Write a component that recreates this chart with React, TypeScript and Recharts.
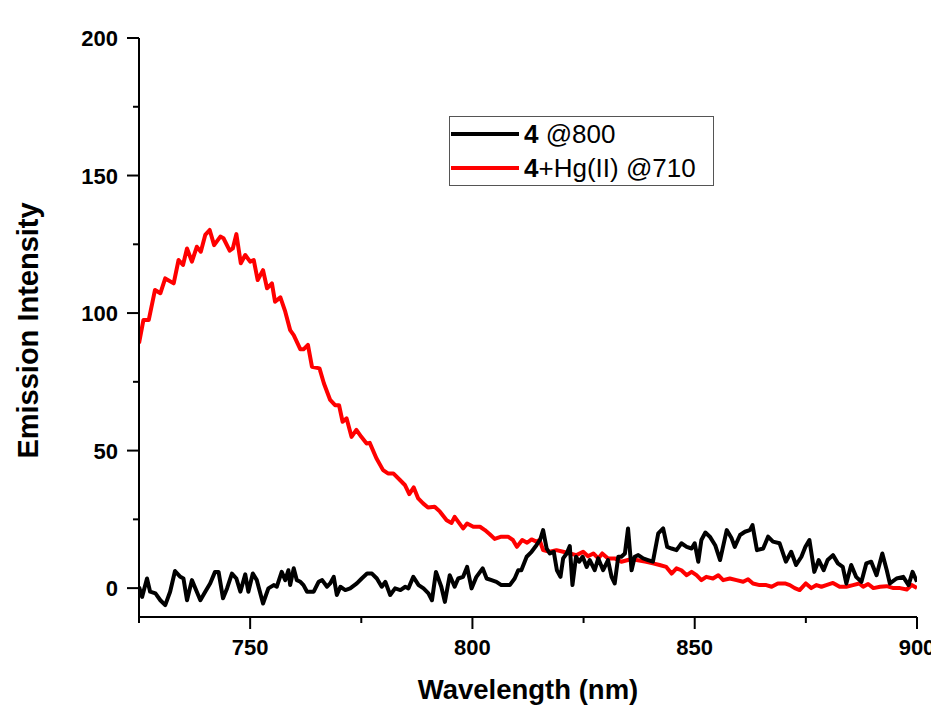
import React from 'react';
import { LineChart, Line, XAxis, YAxis, Legend } from 'recharts';

const redNm = [725, 726, 727.2, 728.6, 729.8, 730.9, 732.8, 733.9, 734.9, 735.8, 736.9, 738, 738.9, 739.9, 740.9, 741.9, 743.3, 744, 745.4, 746.1, 746.9, 747.9, 748.9, 750, 750.8, 751.7, 752.9, 753.8, 754.9, 755.6, 756.8, 757.9, 759, 759.8, 761.3, 762, 763, 763.9, 765.6, 766.6, 768, 769.1, 770, 770.8, 771.7, 772.8, 773.9, 775, 776.2, 776.9, 778.4, 779.9, 781, 782.2, 783.7, 784.8, 785.8, 786.8, 787.8, 788.9, 790, 791.5, 792.7, 794.2, 795.3, 796, 797.9, 798.8, 800.2, 801.7, 802.8, 803.9, 805, 806.5, 808, 809.1, 810, 811.2, 812.3, 813.3, 814.4, 815.1, 815.9, 817.4, 818.9, 820.4, 821.9, 823.4, 824.9, 826, 827.2, 828.3, 829.2, 830.5, 832, 833.5, 835.4, 836.9, 839.1, 840.6, 842.1, 843.6, 844.8, 845.9, 847, 848.2, 849.3, 850.4, 851.5, 852.6, 854.1, 855.3, 856.4, 857.9, 859.4, 860.9, 862, 863.1, 864.6, 866.1, 867.3, 868.7, 870.3, 871.4, 872.5, 873.6, 875, 876.2, 877.4, 878.5, 879.6, 881.1, 882.6, 884.1, 885.6, 887, 887.9, 889, 890.2, 891.7, 893.2, 894.7, 896.2, 897.7, 898.8, 900];
const redVal = [89, 97.5, 97.5, 108.4, 107.2, 112.6, 110.8, 119.3, 117.5, 123.5, 118.7, 124.1, 122.3, 128.4, 130.2, 124.7, 127.8, 127.2, 122.7, 123.5, 128.7, 118.1, 121.1, 118.7, 119.3, 112, 115.6, 109, 110.8, 104.1, 105.7, 100.5, 93.8, 92, 86.8, 86.8, 88.4, 80.5, 79.9, 74.4, 68.4, 66.5, 66.5, 60.5, 61.7, 55, 57.5, 55, 52.6, 52.8, 47.2, 42.9, 41.7, 41.7, 39.3, 37.5, 34.2, 36.6, 32.6, 30.8, 29.3, 29.6, 27.8, 24.7, 23.7, 25.9, 21.7, 23.5, 22.3, 22.3, 21.1, 19.6, 17.9, 18.7, 18.7, 17.5, 15, 17.5, 16.5, 17.7, 16.9, 17.5, 13.8, 13.2, 13.8, 13.2, 12.6, 12, 13.2, 11.6, 12.6, 10.8, 12.6, 10.8, 10.8, 9.6, 10.4, 10.2, 9.6, 9, 8.4, 7.7, 5.3, 7.2, 6.5, 4.7, 5.9, 4.7, 2.9, 4.1, 3.5, 4.7, 2.9, 3.5, 2.9, 2.3, 3.2, 1.7, 1.1, 1.1, 0.5, 1.7, 1.7, 1.1, 0, -0.7, 1.7, 0, 1.1, 0.5, 1.1, 1.9, 0.5, 0.5, 1.1, 1.7, 0.5, 1.5, 0, 0.5, 0.7, 0, 0, -0.5, 1.1, 0];

const blackNm = [725, 725.7, 726.2, 726.8, 727.5, 728.7, 729.8, 730.9, 732, 733.1, 734.3, 735, 735.8, 736.9, 738, 738.8, 739.9, 741, 742.1, 742.9, 743.9, 744.8, 745.9, 746.9, 747.8, 748.9, 749.6, 750.6, 751.5, 752.9, 754.1, 755.3, 756, 757.1, 757.9, 758.6, 759, 759.8, 760.5, 761.3, 762, 762.8, 764.3, 765.4, 766.2, 767.3, 768, 768.8, 769.5, 770.3, 771.4, 772.5, 774, 775.1, 776.3, 777.4, 778.5, 779.6, 780.4, 781.5, 782.6, 783.8, 784.9, 785.6, 786.7, 787.9, 789, 790.1, 790.9, 791.8, 793, 793.8, 794.9, 796, 796.8, 797.9, 798.8, 799.8, 800.9, 802.3, 803.2, 804.3, 805.4, 806.5, 808.4, 809.5, 810.3, 811, 812.2, 813.3, 814.4, 815.2, 815.9, 816.7, 817.4, 818.3, 819, 819.8, 820.4, 821.2, 821.9, 822.5, 823.3, 824, 824.8, 825.7, 826.4, 827.5, 828.3, 829.4, 830.5, 831.3, 832, 832.8, 833.5, 834.3, 835, 835.8, 836.5, 837.3, 838.4, 839.5, 840.6, 841.8, 842.9, 843.8, 844.8, 845.9, 847, 848.2, 849.3, 850, 850.8, 851.5, 852.4, 853.4, 854.6, 855.7, 857.2, 858.3, 859, 860.2, 861.3, 862.4, 863, 864, 865.4, 866.5, 867.6, 869.1, 870.5, 871.7, 872.8, 874, 874.9, 875.8, 876.9, 877.9, 879, 879.9, 881.1, 882.2, 883.3, 884.1, 885.2, 886.3, 887.5, 888.6, 889.7, 890.9, 892.2, 893.2, 893.9, 895.4, 896.9, 898.1, 899, 900];
const blackVal = [0.5, -3.2, -0.1, 3.5, -1.3, -1.9, -4.4, -6.2, -1.3, 6.2, 4.1, 3.5, -4.4, 2.9, -1.3, -4.4, -1.3, 1.7, 5.9, 5.9, -3.7, -0.1, 5.3, 3.5, -1.3, 5, -1.3, 5.3, 2.9, -5.6, -0.1, 1.1, 0.5, 5.9, 2.9, 6.5, 1.1, 7.2, 2.9, 2.3, 1.1, -1.3, -1.3, 2.3, 2.9, 0.5, 1.7, 4.1, -2.5, 0.5, -0.7, -0.1, 1.7, 3.5, 5.3, 5.3, 3.5, 0.5, 2.3, -2.5, -0.1, -0.7, 0.5, -0.1, 4.1, 1.1, -0.1, -1.9, -4.4, 5.9, 0.5, -5, 4.7, 0.5, 3.5, 4.1, 7.7, -0.1, 4.1, 7.2, 3.5, 2.9, 2.3, 1.1, 1.1, 3.5, 6.5, 6.5, 11.4, 13.2, 15.6, 17.5, 21.1, 14.4, 12.6, 13.2, 6.5, 4.1, 10.8, 12.6, 15.3, 1.1, 11.4, 9.6, 11.4, 7.7, 10.2, 6.5, 10.8, 6.5, 10.2, 4.1, 1.7, 11.4, 11.4, 12.6, 21.7, 6.5, 11.4, 12, 10.8, 10.2, 9.6, 19.9, 21.7, 15, 14.4, 13.8, 16.3, 15, 14.4, 16.3, 9.6, 17.5, 20.2, 18.7, 15.6, 10.2, 21.1, 18.1, 15, 19.3, 20.5, 21.1, 22.9, 13.8, 14.4, 18.7, 16.9, 16.3, 9.6, 13.2, 8.4, 11.4, 15, 17.5, 5.9, 10.2, 6.5, 10.2, 12, 9, 7.7, 1.7, 8.4, 4.1, 2.3, 9, 9.6, 4.7, 12.6, 6.5, 1.7, 3.5, 4.1, 1.1, 5.9, 2.3];

const xTicks = [725, 750, 775, 800, 825, 850, 875, 900];
const xMajor = [750, 800, 850, 900];
const yTicks = [0, 25, 50, 75, 100, 125, 150, 175, 200];
const yMajor = [0, 50, 100, 150, 200];

const legendItems = [
  { bold: '4', rest: ' @800', color: '#000000' },
  { bold: '4', rest: '+Hg(II) @710', color: '#ff0000' },
];

const redData = redNm.map((nm, i) => ({ nm, v: redVal[i] }));
const blackData = blackNm.map((nm, i) => ({ nm, v: blackVal[i] }));

const FONT = '"Liberation Sans", Arial, Helvetica, sans-serif';

const XTick = (props: any) => {
  const { x, y, payload } = props;
  const major = xMajor.includes(payload.value);
  return (
    <g>
      <line x1={x} x2={x} y1={y} y2={y + (major ? 12 : 6)} stroke="#000" strokeWidth={2} />
      {major && (
        <text x={x} y={y + 38} textAnchor="middle" fontFamily={FONT} fontWeight="bold" fontSize={22} fill="#000">
          {payload.value}
        </text>
      )}
    </g>
  );
};

const YTick = (props: any) => {
  const { x, y, payload } = props;
  const major = yMajor.includes(payload.value);
  return (
    <g>
      <line x1={x} x2={x - (major ? 12 : 6)} y1={y} y2={y} stroke="#000" strokeWidth={2} />
      {major && (
        <text x={x - 21} y={y + 8} textAnchor="end" fontFamily={FONT} fontWeight="bold" fontSize={22} fill="#000">
          {payload.value}
        </text>
      )}
    </g>
  );
};

const XTitle = (props: any) => {
  const vb = props.viewBox;
  return (
    <text x={vb.x + vb.width / 2} y={vb.y + 82} textAnchor="middle" fontFamily={FONT} fontWeight="bold" fontSize={27.5} fill="#000">
      Wavelength (nm)
    </text>
  );
};

const YTitle = (props: any) => {
  const vb = props.viewBox;
  const cx = 30;
  const cy = vb.y + vb.height / 2 + 3;
  return (
    <text x={cx} y={cy} transform={`rotate(-90, ${cx}, ${cy})`} textAnchor="middle" fontFamily={FONT} fontWeight="bold" fontSize={29} fill="#000">
      Emission Intensity
    </text>
  );
};

const renderLegend = () => (
  <div
    style={{
      width: 263,
      height: 68,
      border: '1px solid #555',
      background: '#fff',
      fontFamily: FONT,
      fontSize: 26,
      color: '#000',
      lineHeight: 1,
    }}
  >
    {legendItems.map((it) => (
      <div key={it.rest} style={{ display: 'flex', alignItems: 'center', height: 34 }}>
        <svg width={68} height={6} style={{ marginLeft: 1 }}>
          <line x1={0} x2={68} y1={3} y2={3} stroke={it.color} strokeWidth={4} />
        </svg>
        <span style={{ marginLeft: 5, whiteSpace: 'nowrap' }}>
          <b>{it.bold}</b>
          {it.rest}
        </span>
      </div>
    ))}
  </div>
);

export default function App() {
  return (
    <div style={{ width: 931, height: 700, background: '#fff' }}>
      <LineChart width={931} height={700} margin={{ top: 30, right: 22, bottom: 0, left: 0 }}>
        <XAxis
          dataKey="nm"
          type="number"
          domain={[725, 900]}
          ticks={xTicks}
          interval={0}
          height={91}
          tickSize={0}
          tickMargin={0}
          tickLine={false}
          tick={<XTick />}
          axisLine={{ stroke: '#000', strokeWidth: 2 }}
          allowDataOverflow
          label={<XTitle />}
        />
        <YAxis
          type="number"
          domain={[-10.5, 200]}
          ticks={yTicks}
          interval={0}
          width={131}
          tickSize={0}
          tickMargin={0}
          tickLine={false}
          tick={<YTick />}
          axisLine={{ stroke: '#000', strokeWidth: 2 }}
          allowDataOverflow
          label={<YTitle />}
        />
        <Legend
          content={renderLegend}
          layout="vertical"
          align="center"
          verticalAlign="middle"
          wrapperStyle={{ left: 441, top: 108, width: 265, height: 70 }}
        />
        <Line data={redData} dataKey="v" type="linear" stroke="#ff0000" strokeWidth={4} dot={false} isAnimationActive={false} strokeLinejoin="round" />
        <Line data={blackData} dataKey="v" type="linear" stroke="#000000" strokeWidth={4} dot={false} isAnimationActive={false} strokeLinejoin="round" />
      </LineChart>
    </div>
  );
}
